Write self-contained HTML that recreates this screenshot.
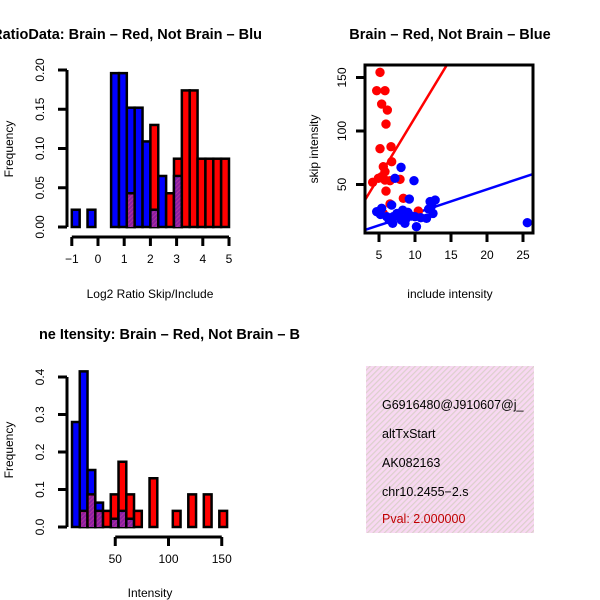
<!DOCTYPE html>
<html><head><meta charset="utf-8"><style>
body{margin:0;background:#fff}
svg{display:block;font-family:"Liberation Sans",sans-serif}
</style></head><body>
<svg id="c" width="600" height="600" xmlns="http://www.w3.org/2000/svg">
<defs>
<pattern id="hatch" width="4" height="4" patternUnits="userSpaceOnUse" patternTransform="rotate(45)">
<rect width="4" height="4" fill="#f8d8f2"/><rect width="1.2" height="4" fill="#dcd0cc"/>
</pattern>
<pattern id="pur" width="3" height="3" patternUnits="userSpaceOnUse" patternTransform="rotate(45)">
<rect width="3" height="3" fill="#8a1fa0"/><rect width="1" height="3" fill="#b030a0"/>
</pattern>
<clipPath id="clip2"><rect x="365" y="65" width="168" height="168"/></clipPath>
<clipPath id="clipT"><rect x="366" y="366" width="168" height="167"/></clipPath>
</defs>
<g id="g1"></g>
<g id="g2"></g>
<g id="g3"></g>
<g>
<rect x="366" y="366" width="168" height="167" fill="url(#hatch)"/>
<g clip-path="url(#clipT)" font-size="12.5">
<text x="382" y="409">G6916480@J910607@j_</text>
<text x="382" y="438">altTxStart</text>
<text x="382" y="467">AK082163</text>
<text x="382" y="496">chr10.2455−2.s</text>
<text x="382" y="523" fill="#c00000">Pval: 2.000000</text>
</g></g>
</svg>
<script>
// Panel 1 data
const h1Start = -1.0, h1Width = 0.3;
const h1Blue = [0.022,0,0.022,0,0,0.196,0.196,0.152,0.152,0.109,0.022,0.065,0,0.065,0,0,0,0,0,0];
const h1Red  = [0,0,0,0,0,0,0,0.043,0,0,0.13,0,0.043,0.087,0.174,0.174,0.087,0.087,0.087,0.087];
const h1XTicks = [-1,0,1,2,3,4,5];
const h1YTicks = ["0.00","0.05","0.10","0.15","0.20"];
// Panel 2 data
const redX = [5.14,4.68,5.83,5.37,6.16,5.97,5.14,6.67,5.6,5.83,6.76,5.37,4.12,5.83,4.91,7.92,6.53,5.97,8.38,6.53,10.46,5.6];
const redY = [154.8,137.7,137.7,125.2,119.6,106.5,83.5,85.3,66.6,62,71.3,57.3,52,54.2,55.8,54.8,53.6,43.9,37.1,31.8,25.2,23];
const blueX = [8.06,7.22,9.86,9.21,5.37,4.68,6.76,7.5,8.1,6.9,8.8,10,10.2,12.1,12.8,11.6,12.5,25.6,6.07,8.6,7.0,9.5,11.9,12.3,5.2,6.4,7.8,9.0,10.8,8.3];
const blueY = [66,55.8,53.6,36.4,27.7,24.6,30.8,23,16.8,13.7,18.4,19.9,10.6,34,35.5,18.4,23,14.3,19.9,13.7,20,20.5,27,30,22,17,21,24,19,26];
const redFit = [1.6, 11.1];   // intercept, slope
const blueFit = [0.67, 2.24];
const sXTicks = [5,10,15,20,25];
const sYTicks = [50,100,150];
// Panel 3 data
const h3Start = 9.4, h3Width = 7.28;
const h3Blue = [0.28,0.415,0.152,0.065,0,0.022,0.043,0.022,0,0,0,0,0,0,0,0,0,0,0,0];
const h3Red  = [0,0.043,0.087,0.043,0.043,0.087,0.174,0.087,0.043,0,0.13,0,0,0.043,0,0.087,0,0.087,0,0.043];
const h3XTicks = [50,100,150];
const h3YTicks = ["0.0","0.1","0.2","0.3","0.4"];

const NS="http://www.w3.org/2000/svg";
function mk(parent,tag,attrs,text){const e=document.createElementNS(NS,tag);for(const k in attrs)e.setAttribute(k,attrs[k]);if(text!==undefined)e.textContent=text;parent.appendChild(e);return e;}

function histo(g,start,width,blue,red,xs,ys,xticks,yticks,yvals){
  const n=blue.length;
  for(let k=0;k<n;k++){
    const b=blue[k],r=red[k];
    const x0=xs(start+k*width),x1=xs(start+(k+1)*width);
    const order=b>=r?[[r,'#ff0000','red'],[b,'#0000ff','blue']]:[[b,'#0000ff','blue'],[r,'#ff0000','red']];
    const tall=order[1],short=order[0];
    [tall,short].forEach(o=>{
      if(o[0]<=0)return;
      const e=mk(g,'rect',{x:x0,y:ys(o[0]),width:x1-x0,height:ys(0)-ys(o[0]),fill:o[1],stroke:'#000','stroke-width':2.5});
      
      
    });
    if(b>0&&r>0){
      const m=Math.min(b,r);
      const e=mk(g,'rect',{x:x0+1.3,y:ys(m)+1.3,width:x1-x0-2.6,height:ys(0)-ys(m)-1.3,fill:'url(#pur)'});
      
      
    }
  }
  const ya=mk(g,'g',{});
  
  
  const x=67;
  mk(ya,'line',{x1:x,x2:x,y1:ys(yvals[0]),y2:ys(yvals[yvals.length-1]),stroke:'#000','stroke-width':3});
  yvals.forEach((v,i)=>{
    mk(ya,'line',{x1:x-9,x2:x,y1:ys(v),y2:ys(v),stroke:'#000','stroke-width':3});
    mk(ya,'text',{x:0,y:0,'font-size':12,'text-anchor':'middle',transform:`translate(${x-23},${ys(v)}) rotate(-90)`},yticks[i]);
  });
  const xa=mk(g,'g',{});
  
  
  const yA=ys(0)+10;
  mk(xa,'line',{x1:xs(xticks[0]),x2:xs(xticks[xticks.length-1]),y1:yA,y2:yA,stroke:'#000','stroke-width':3});
  xticks.forEach(v=>{
    mk(xa,'line',{x1:xs(v),x2:xs(v),y1:yA,y2:yA+9,stroke:'#000','stroke-width':3});
    mk(xa,'text',{x:xs(v),y:yA+26,'font-size':12,'text-anchor':'middle'},String(v).replace('-','−'));
  });
}

// Panel 1
(function(){
  const g=document.getElementById('g1');
  const xs=v=>98+(v)*26.2, ys=v=>227-v*785;
  histo(g,h1Start,h1Width,h1Blue,h1Red,xs,ys,h1XTicks,h1YTicks,[0,0.05,0.1,0.15,0.2]);
  const t=mk(g,'text',{x:262,y:39,'font-size':14.5,'font-weight':'bold','text-anchor':'end'},'RatioData: Brain – Red, Not Brain – Blu');
  
  
  const xl=mk(g,'text',{x:150,y:298,'font-size':12,'text-anchor':'middle'},'Log2 Ratio Skip/Include');
  
  
  const yl=mk(g,'text',{x:0,y:0,'font-size':12,'text-anchor':'middle',transform:'translate(13,149) rotate(-90)'},'Frequency');
  
  
})();

// Panel 2
(function(){
  const g=document.getElementById('g2');
  const xs=v=>343+v*7.2, ys=v=>238-v*1.07;
  const cg=mk(g,'g',{'clip-path':'url(#clip2)'});
  [[redFit,'#ff0000','red'],[blueFit,'#0000ff','blue']].forEach(f=>{
    const a=f[0][0],b=f[0][1];
    const e=mk(cg,'line',{x1:xs(0),y1:ys(a),x2:xs(30),y2:ys(a+b*30),stroke:f[1],'stroke-width':2.5});
    
    
  });
  redX.forEach((v,i)=>{
    const e=mk(cg,'circle',{cx:xs(v),cy:ys(redY[i]),r:4.7,fill:'#ff0000'});
    
    
  });
  blueX.forEach((v,i)=>{
    const e=mk(cg,'circle',{cx:xs(v),cy:ys(blueY[i]),r:4.7,fill:'#0000ff'});
    
    
  });
  const box=mk(g,'rect',{x:365,y:65,width:168,height:168,fill:'none',stroke:'#000','stroke-width':3});
  
  
  const ya=mk(g,'g',{});
  
  
  sYTicks.forEach(v=>{
    mk(ya,'line',{x1:356,x2:365,y1:ys(v),y2:ys(v),stroke:'#000','stroke-width':3});
    mk(ya,'text',{x:0,y:0,'font-size':12,'text-anchor':'middle',transform:`translate(346,${ys(v)}) rotate(-90)`},String(v));
  });
  const xa=mk(g,'g',{});
  
  
  sXTicks.forEach(v=>{
    mk(xa,'line',{x1:xs(v),x2:xs(v),y1:233,y2:242,stroke:'#000','stroke-width':3});
    mk(xa,'text',{x:xs(v),y:259,'font-size':12,'text-anchor':'middle'},String(v));
  });
  const t=mk(g,'text',{x:450,y:39,'font-size':14.5,'font-weight':'bold','text-anchor':'middle'},'Brain – Red, Not Brain – Blue');
  
  
  const xl=mk(g,'text',{x:450,y:298,'font-size':12,'text-anchor':'middle'},'include intensity');
  
  
  const yl=mk(g,'text',{x:0,y:0,'font-size':12,'text-anchor':'middle',transform:'translate(318,149) rotate(-90)'},'skip intensity');
  
  
})();

// Panel 3
(function(){
  const g=document.getElementById('g3');
  const xs=v=>62+v*1.065, ys=v=>527-v*375;
  histo(g,h3Start,h3Width,h3Blue,h3Red,xs,ys,h3XTicks,h3YTicks,[0,0.1,0.2,0.3,0.4]);
  const t=mk(g,'text',{x:300,y:339,'font-size':14.5,'font-weight':'bold','text-anchor':'end'},'ne Itensity: Brain – Red, Not Brain – B');
  
  
  const xl=mk(g,'text',{x:150,y:597,'font-size':12,'text-anchor':'middle'},'Intensity');
  
  
  const yl=mk(g,'text',{x:0,y:0,'font-size':12,'text-anchor':'middle',transform:'translate(13,450) rotate(-90)'},'Frequency');
  
  
})();
</script>
</body></html>
